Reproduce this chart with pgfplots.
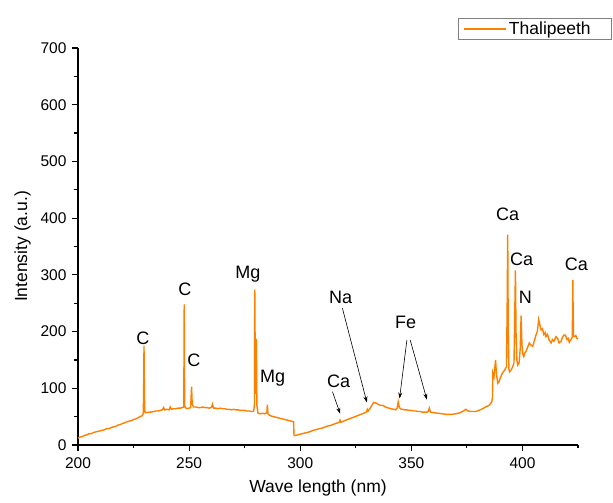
\documentclass[border=0pt]{standalone}
\usepackage{fontspec}
\setmainfont{Liberation Sans}
\usepackage{pgfplots}
\pgfplotsset{compat=1.18}
\usetikzlibrary{arrows.meta}
\definecolor{org}{RGB}{255,127,0}
\begin{document}
\begin{tikzpicture}[x=1pt,y=1pt]
\path[use as bounding box] (-78,-58) rectangle (535,445);
\begin{axis}[at={(0,0)}, anchor=south west, scale only axis,
  width=500pt, height=397pt,
  xmin=200, xmax=425, ymin=0, ymax=700,
  axis x line*=bottom, axis y line*=left,
  axis line style={-, line width=1.2pt},
  xtick={200,250,...,400}, minor xtick={225,275,325,375,425},
  ytick={0,100,...,700}, minor ytick={50,150,...,650},
  tick align=outside, major tick length=6pt, minor tick length=3.5pt,
  tick style={line width=1.2pt, black},
  /pgf/number format/assume math mode=true,
  ticklabel style={font=\fontsize{15.5}{17}\selectfont},
  xticklabel style={yshift=-3pt},
  yticklabel style={xshift=-2pt},
  xlabel={Wave length (nm)}, ylabel={Intensity (a.u.)},
  label style={font=\fontsize{17.5}{19}\selectfont},
  xlabel style={yshift=-4pt, xshift=-10pt},
  ylabel style={yshift=3pt},
  legend style={at={(axis description cs:1.068,1.0756)}, anchor=north east,
    draw=gray, line width=0.6pt, font=\fontsize{17.5}{19}\selectfont,
    inner xsep=5pt, inner ysep=1.5pt},
  legend image code/.code={\draw[#1] (0pt,0pt) -- (42pt,0pt);},
  clip=false]
\addplot[org, line width=1.4pt] coordinates {
(200,12) (201,14) (202,15) (203,17) (204,18) (205,20) (206,20) (207,22) (208,23) (209,24)
(210,25) (211,26) (212,27) (213,29) (214,29) (215,31) (216,32) (217,33) (218,35) (219,36)
(220,38) (221,39) (222,41) (223,42) (224,43) (225,45) (226,46) (227,48) (228,50) (229,52)
(229.4,56) (229.6,120) (229.7,175) (229.85,110) (230,62) (230.3,57) (231,57) (232,58) (233,58)
(234,59) (235,60) (236,60) (237,61) (238,62) (238.5,66) (239,62) (240,63) (241,62) (241.5,67)
(242,63) (243,64) (244,64) (245,65) (246,65) (247,66) (247.6,67) (247.8,248) (248.0,70) (248.3,66)
(249,64) (250,65) (250.7,66) (251.1,103) (251.4,72) (252,67) (253,67) (254,66) (255,66) (256,67)
(257,66) (258,66) (259,65) (260,66) (260.5,72) (261,65) (262,65) (263,64) (264,65) (265,64)
(266,64) (267,63) (268,63) (269,62) (270,63) (271,62) (272,62) (273,61) (274,61) (275,61)
(276,60) (277,60) (278,59) (279,59) (279.4,70) (279.55,274) (279.8,120) (280.1,90) (280.27,187)
(280.5,70) (281,56) (282,55) (283,56) (284,55) (285,57) (285.2,71) (285.5,55) (286,53) (287,51)
(288,50) (289,49) (290,48) (291,47) (292,46) (293,45) (294,44) (295,43) (296,42) (297,41)
(297.2,17) (298,17) (299,18) (300,19) (302,21) (304,23) (306,26) (308,28) (310,30) (312,33)
(314,35) (316,38) (317.5,40) (317.9,44) (318.3,40) (320,43) (322,46) (324,49) (326,52) (328,55)
(329.8,58) (330.2,63) (330.6,60) (331.5,65) (333,75) (334,74) (335,72) (336,70) (337,70) (338,68)
(339,66) (340,65) (341,64) (342,63) (343,62) (343.6,65) (344.1,76) (344.6,66) (345.5,63) (346,63)
(347,62) (348,62) (349,61) (350,61) (351,60) (352,60) (353,59) (354,59) (355,58) (356,58)
(357,58) (357.6,59) (358.1,65) (358.6,58) (360,57) (362,56) (364,55) (366,54) (368,54) (370,55)
(372,57) (373.5,60) (374.5,63) (375.5,60) (377,59) (379,59) (381,62) (383,66) (384,68) (385,70)
(385.8,74) (386.2,76) (386.5,83) (386.7,127) (387.2,120) (387.9,150) (388.3,125) (388.9,109) (389.5,112) (390,118)
(391,127) (392,132) (392.8,138) (393.1,230) (393.37,371) (393.6,200) (393.9,135) (394.2,129) (395,133) (395.6,138)
(396.2,145) (396.5,220) (396.85,308) (397.1,200) (397.5,150) (397.9,141) (398.5,145) (399.0,170) (399.4,228) (399.8,175)
(400.2,160) (400.6,156) (401.1,162) (401.6,165) (402.3,172) (403.1,180) (403.8,176) (404.6,174) (405.3,183) (406.1,194)
(406.7,200) (407.3,221) (407.8,212) (408.4,203) (409,205) (409.6,195) (410.2,198) (410.6,191) (411.3,195) (412,185)
(412.9,180) (413.5,186) (414.2,183) (415.1,191) (415.8,188) (416.5,180) (417.4,183) (418,190) (418.7,194) (419.3,194)
(420,186) (420.6,188) (421.1,181) (421.8,186) (422.4,190) (422.6,250) (422.67,291) (422.8,240) (423.0,192) (423.4,191)
(424,193) (424.5,188) (425,187)
};
\addlegendentry{Thalipeeth\kern14pt}
\begin{scope}[font=\fontsize{18}{20}\selectfont]
\node at (axis cs:229.2,189) {C};
\node at (axis cs:248.1,274) {C};
\node at (axis cs:252.1,150) {C};
\node at (axis cs:276.4,302) {Mg};
\node at (axis cs:287.6,117) {Mg};
\node at (axis cs:317.3,113) {Ca};
\node at (axis cs:318.2,261) {Na};
\node at (axis cs:347.4,216) {Fe};
\node at (axis cs:393.3,406) {Ca};
\node at (axis cs:399.6,327) {Ca};
\node at (axis cs:401.3,260) {N};
\node at (axis cs:424.3,318) {Ca};
\end{scope}
\begin{scope}[-{Stealth[length=6pt,width=4pt]}, line width=0.6pt]
\draw (axis cs:314.5,94) -- (axis cs:318.0,55);
\draw (axis cs:319.0,241) -- (axis cs:330.0,75);
\draw (axis cs:348.0,185) -- (axis cs:344.7,82);
\draw (axis cs:349.5,185) -- (axis cs:357.0,80);
\end{scope}
\end{axis}
\end{tikzpicture}
\end{document}
